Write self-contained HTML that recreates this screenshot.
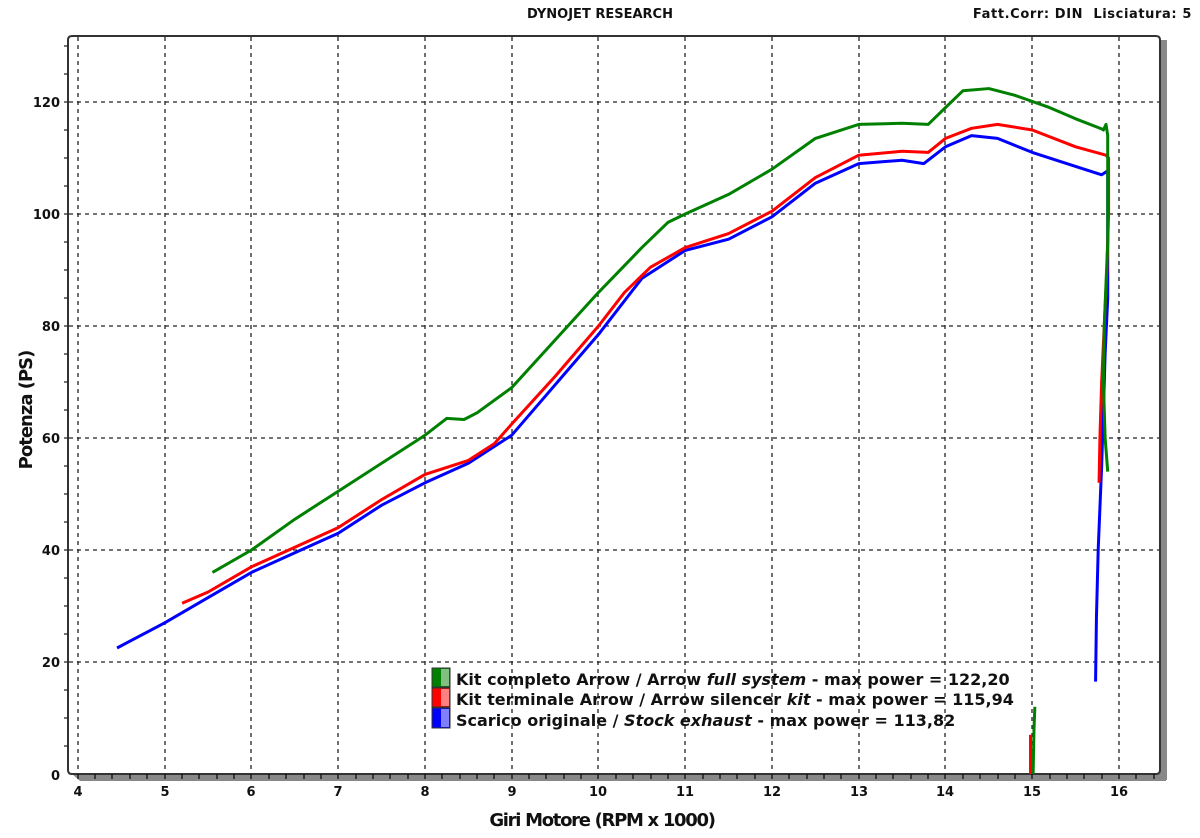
<!DOCTYPE html>
<html><head><style>
body{margin:0;background:#fff;}
svg{display:block;font-family:"DejaVu Sans","Liberation Sans",sans-serif;font-weight:bold;}
</style></head><body>
<svg width="1200" height="838" viewBox="0 0 1200 838" xmlns="http://www.w3.org/2000/svg">
<text x="600" y="18" font-size="13" text-anchor="middle" fill="#111">DYNOJET RESEARCH</text>
<text x="1192" y="18" font-size="13" text-anchor="end" fill="#111" letter-spacing="0.6">Fatt.Corr: DIN&#160;&#160;Lisciatura: 5</text>
<!-- shadow -->
<rect x="1160" y="40" width="7" height="740" fill="#888"/>
<polygon points="72,774 1166,774 1166,781 80,781" fill="#888"/>
<!-- frame -->
<path d="M68,40 Q68,36 72,36 L1156,36 Q1160,36 1160,40 L1160,770 Q1160,774 1156,774 L72,774 Q68,774 68,770 Z" fill="none" stroke="#333" stroke-width="2"/>
<!-- grid -->
<g stroke="#222" stroke-width="1.3" stroke-dasharray="4,4">
<line x1="78" y1="37" x2="78" y2="773"/><line x1="165" y1="37" x2="165" y2="773"/><line x1="251" y1="37" x2="251" y2="773"/><line x1="338" y1="37" x2="338" y2="773"/><line x1="425" y1="37" x2="425" y2="773"/><line x1="512" y1="37" x2="512" y2="773"/><line x1="598" y1="37" x2="598" y2="773"/><line x1="685" y1="37" x2="685" y2="773"/><line x1="772" y1="37" x2="772" y2="773"/><line x1="859" y1="37" x2="859" y2="773"/><line x1="945" y1="37" x2="945" y2="773"/><line x1="1032" y1="37" x2="1032" y2="773"/><line x1="1119" y1="37" x2="1119" y2="773"/>
<line x1="69" y1="102" x2="1159" y2="102"/><line x1="69" y1="214" x2="1159" y2="214"/><line x1="69" y1="326" x2="1159" y2="326"/><line x1="69" y1="438" x2="1159" y2="438"/><line x1="69" y1="550" x2="1159" y2="550"/><line x1="69" y1="662" x2="1159" y2="662"/>
</g>
<!-- y ticks -->
<g stroke="#222" stroke-width="1.3">
<path d="M64,46h4M64,74h4M64,102h4M64,130h4M64,158h4M64,186h4M64,214h4M64,242h4M64,270h4M64,298h4M64,326h4M64,354h4M64,382h4M64,410h4M64,438h4M64,466h4M64,494h4M64,522h4M64,550h4M64,578h4M64,606h4M64,634h4M64,662h4M64,690h4M64,718h4M64,746h4"/>
</g>
<g font-size="13" fill="#111" text-anchor="end">
<text x="60" y="107">120</text><text x="60" y="219">100</text><text x="60" y="331">80</text><text x="60" y="443">60</text><text x="60" y="555">40</text><text x="60" y="667">20</text><text x="60" y="780">0</text>
</g>
<g font-size="13" fill="#111" text-anchor="middle">
<text x="78" y="796">4</text><text x="165" y="796">5</text><text x="251" y="796">6</text><text x="338" y="796">7</text><text x="425" y="796">8</text><text x="512" y="796">9</text><text x="598" y="796">10</text><text x="685" y="796">11</text><text x="772" y="796">12</text><text x="859" y="796">13</text><text x="945" y="796">14</text><text x="1032" y="796">15</text><text x="1119" y="796">16</text>
</g>
<text x="602" y="826" font-size="18" text-anchor="middle" fill="#111" letter-spacing="-1.3">Giri Motore (RPM x 1000)</text>
<text transform="translate(32,410) rotate(-90)" font-size="18" text-anchor="middle" fill="#111" letter-spacing="-1">Potenza (PS)</text>
<!-- curves -->
<g transform="translate(78,774) scale(86.75,-5.6) translate(-4,0)" fill="none" stroke-width="3" stroke-linejoin="round">
<polyline vector-effect="non-scaling-stroke" stroke="#0000ff" points="4.45,22.5 5,27 5.5,31.5 6,36 6.5,39.5 7,43 7.5,48 8,52 8.5,55.5 9,60.5 9.5,69.5 10,78.5 10.5,88.5 11,93.5 11.5,95.5 12,99.5 12.5,105.5 13,109 13.5,109.6 13.75,109 14,112 14.3,114 14.6,113.5 15,111 15.5,108.5 15.8,107 15.87,107.7 15.87,85 15.84,75 15.82,65 15.8,55 15.76,40 15.74,28 15.73,16.5"/>
<polyline vector-effect="non-scaling-stroke" stroke="#ff0000" points="5.2,30.5 5.5,32.5 6,37 6.5,40.5 7,44 7.5,49 8,53.5 8.5,56 8.8,59 9,62.5 9.5,71 10,80 10.3,86 10.6,90.5 11,94 11.5,96.5 12,100.5 12.5,106.5 13,110.5 13.5,111.2 13.8,111 14,113.5 14.3,115.3 14.6,116 15,115 15.5,112 15.85,110.5 15.88,110 15.88,100 15.86,90 15.83,80 15.8,70 15.78,60 15.77,52"/>
<polyline vector-effect="non-scaling-stroke" stroke="#ff0000" points="14.98,0 14.98,7"/>
<polyline vector-effect="non-scaling-stroke" stroke="#008000" points="5.55,36 6,40 6.5,45.5 7,50.5 7.5,55.5 8,60.5 8.25,63.5 8.45,63.3 8.6,64.5 9,69 9.5,77.5 10,86 10.5,94 10.8,98.5 11,100 11.5,103.5 12,108 12.5,113.5 13,116 13.5,116.2 13.8,116 14,119 14.2,122 14.5,122.4 14.8,121.2 15.2,119 15.5,117 15.8,115.2 15.82,115 15.85,116 15.87,114 15.87,95 15.83,80 15.82,70 15.84,60 15.87,54"/>
<polyline vector-effect="non-scaling-stroke" stroke="#008000" points="15.01,0 15.02,8 15.03,12"/>
</g>
<!-- legend -->
<rect x="432" y="668" width="18" height="19" fill="#008000" stroke="#333"/><rect x="441" y="669" width="8" height="17" fill="#80c080"/>
<rect x="432" y="688" width="18" height="19" fill="#ff0000" stroke="#333"/><rect x="441" y="689" width="8" height="17" fill="#ff8080"/>
<rect x="432" y="708" width="18" height="20" fill="#0000ff" stroke="#333"/><rect x="441" y="709" width="8" height="18" fill="#8080ff"/>
<g font-size="16" fill="#111">
<text x="456" y="685">Kit completo Arrow / Arrow <tspan font-style="italic">full system</tspan> - max power = 122,20</text>
<text x="456" y="705">Kit terminale Arrow / Arrow silencer <tspan font-style="italic">kit</tspan> - max power = 115,94</text>
<text x="456" y="726">Scarico originale / <tspan font-style="italic">Stock exhaust</tspan> - max power = 113,82</text>
</g>
<!-- x minor ticks -->
<g stroke="#111" stroke-width="1.3">
<path d="M78,774v5M95,774v5M112,774v5M130,774v5M147,774v5M165,774v5M182,774v5M199,774v5M217,774v5M234,774v5M251,774v5M269,774v5M286,774v5M304,774v5M321,774v5M338,774v5M356,774v5M373,774v5M390,774v5M408,774v5M425,774v5M442,774v5M460,774v5M477,774v5M494,774v5M512,774v5M529,774v5M546,774v5M564,774v5M581,774v5M598,774v5M616,774v5M633,774v5M651,774v5M668,774v5M685,774v5M703,774v5M720,774v5M737,774v5M755,774v5M772,774v5M789,774v5M807,774v5M824,774v5M841,774v5M859,774v5M876,774v5M893,774v5M911,774v5M928,774v5M945,774v5M963,774v5M980,774v5M998,774v5M1015,774v5M1032,774v5M1050,774v5M1067,774v5M1084,774v5M1102,774v5M1119,774v5M1136,774v5M1154,774v5"/>
</g>
</svg>
</body></html>
